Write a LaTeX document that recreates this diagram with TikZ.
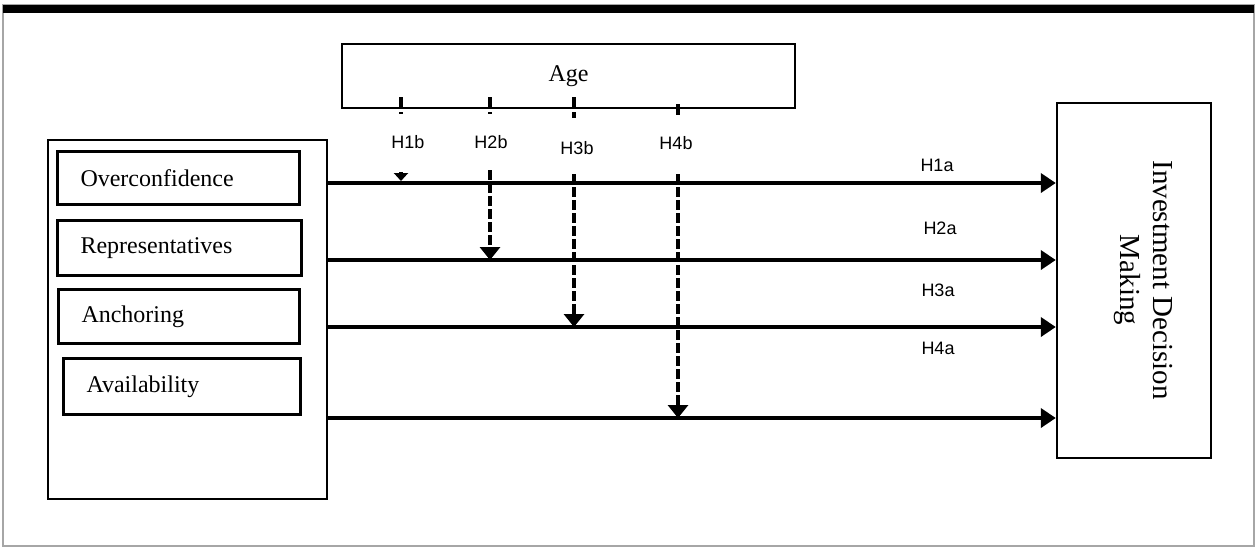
\documentclass[tikz,border=0pt]{standalone}
\usepackage{fontspec}
\setmainfont{Liberation Serif}
\newfontfamily\lsans{Liberation Sans}
\usetikzlibrary{arrows.meta}
\begin{document}
\begin{tikzpicture}[x=0.5pt,y=-0.5pt,
  box/.style={draw, line width=1.2pt, inner sep=0pt},
  factor/.style={draw, line width=1.5pt, anchor=north west, inner xsep=11.5pt, inner ysep=0pt, align=left, font=\fontsize{12}{14}\selectfont},
  harrow/.style={line width=2pt, -{Triangle[length=7.5pt,width=9.5pt]}},
  varrow/.style={line width=2pt, dash pattern=on 5pt off 1.5pt, -{Triangle[length=6.5pt,width=10pt]}},
  sarrow/.style={line width=2pt, -{Triangle[length=4pt,width=7pt]}},
  tickline/.style={line width=2pt, dash pattern=on 5.5pt off 2pt},
  hlab/.style={font=\lsans\fontsize{9}{11}\selectfont, inner sep=0pt}]
\useasboundingbox (0,0) rectangle (1258,548);
% frame
\draw[gray!70, line width=0.8pt] (3,5) rectangle (1254,546);
\fill (3,5) rectangle (1254,12.5);
% age
\node[box, minimum width=226.5pt, minimum height=32pt, font=\fontsize{12}{14}\selectfont] (age) at (568.5,76) {Age};
% left block
\node[box, anchor=north west, minimum width=139.5pt, minimum height=179.5pt] (L) at (47,139) {};
\node[factor, text width=98pt, minimum height=26.5pt] (f1) at (56,150) {Overconfidence};
\node[factor, text width=99pt, minimum height=27.5pt] (f2) at (56,219) {Representatives};
\node[factor, text width=97.5pt, minimum height=27pt] (f3) at (57,288) {Anchoring};
\node[factor, text width=95.5pt, minimum height=28pt] (f4) at (62,357) {Availability};
% right block
\node[box, minimum width=77pt, minimum height=177.5pt] (R) at (1134,280.5) {};
\node[rotate=-90, align=center, inner sep=0pt, font=\fontsize{14.5}{16.5}\selectfont] (Rt) at (1143,280) {Investment Decision\\Making};
% horizontal arrows
\foreach \yy in {183,260,327,418}
  \draw[harrow] (L.east |- 0,\yy) -- (R.west |- 0,\yy);
% labels a
\node[hlab] (h1a) at (937,165) {H1a};
\node[hlab] (h2a) at (940,228) {H2a};
\node[hlab] (h3a) at (938,290) {H3a};
\node[hlab] (h4a) at (938,348) {H4a};
% labels b
\node[hlab] (h1b) at (408,142) {H1b};
\node[hlab] (h2b) at (491,142) {H2b};
\node[hlab] (h3b) at (577,148) {H3b};
\node[hlab] (h4b) at (676,143) {H4b};
% moderating arrows
\coordinate (t1s) at (401,97);  \coordinate (t1e) at (401,114);
\coordinate (t2s) at (490,97);  \coordinate (t2e) at (490,114);
\coordinate (t3s) at (574,97);  \coordinate (t3e) at (574,118);
\coordinate (t4s) at (678,104); \coordinate (t4e) at (678,116);
\foreach \i in {1,2,3,4} \draw[tickline] (t\i s) -- (t\i e);
\coordinate (v1s) at (401,172); \coordinate (v1e) at (401,181);
\coordinate (v2s) at (490,170); \coordinate (v2e) at (490,260);
\coordinate (v3s) at (574,174); \coordinate (v3e) at (574,327);
\coordinate (v4s) at (678,174); \coordinate (v4e) at (678,418);
\draw[sarrow] (v1s) -- (v1e);
\draw[varrow] (v2s) -- (v2e);
\draw[varrow] (v3s) -- (v3e);
\draw[varrow] (v4s) -- (v4e);
\end{tikzpicture}
\end{document}
